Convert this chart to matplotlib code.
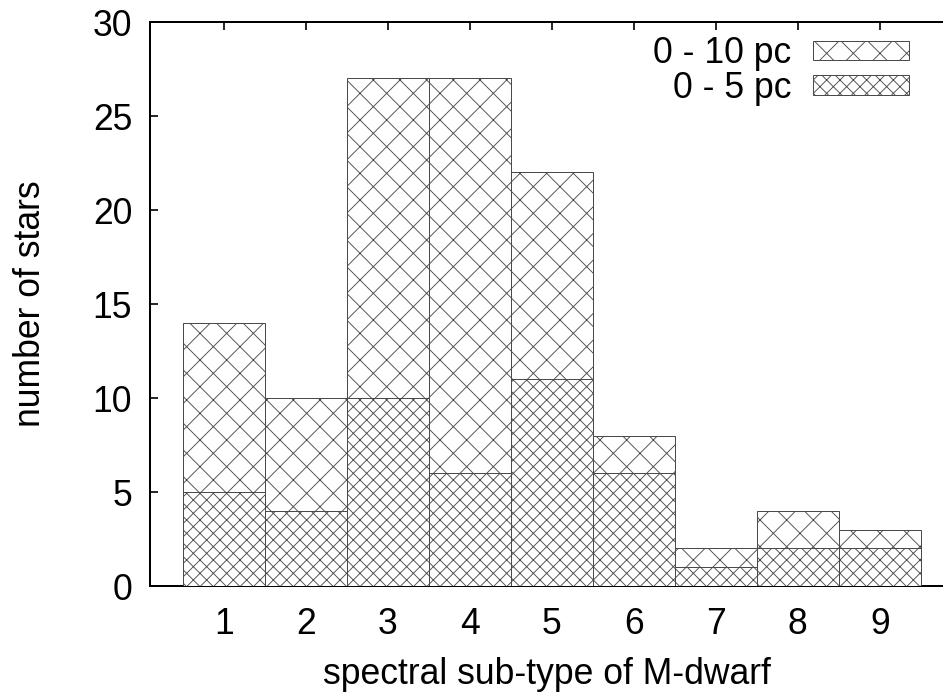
import matplotlib.pyplot as plt
from matplotlib.patches import Patch

# M-dwarf spectral sub-types and star counts
subtypes = [1, 2, 3, 4, 5, 6, 7, 8, 9]
counts_10pc = [14, 10, 27, 27, 22, 8, 2, 4, 3]
counts_5pc = [5, 4, 10, 6, 11, 6, 1, 2, 2]

plt.rcParams['font.family'] = ['Liberation Sans', 'DejaVu Sans']
plt.rcParams['hatch.linewidth'] = 0.8

dpi = 80
fs = 32
fig = plt.figure(figsize=(943 / dpi, 696 / dpi), dpi=dpi)
ax = fig.add_axes([150 / 943, 110 / 696, 793 / 943, 564 / 696])

edge = '#4a4a4a'
ax.bar(subtypes, counts_10pc, width=1, facecolor='white', edgecolor=edge,
       hatch='x', linewidth=0.9, zorder=2)
ax.bar(subtypes, counts_5pc, width=1, facecolor='white', edgecolor=edge,
       hatch='xx', linewidth=0.9, zorder=3)

ax.set_xlim(0.1, 9.77)
ax.set_ylim(0, 30)
ax.set_xticks(subtypes)
ax.set_yticks(range(0, 31, 5))

for side in ['left', 'bottom', 'top']:
    ax.spines[side].set_linewidth(1.8)
ax.spines['right'].set_visible(False)

ax.tick_params(axis='y', direction='in', length=7, width=1.5, labelsize=fs, pad=16)
ax.tick_params(axis='x', direction='in', length=0, labelsize=fs, pad=19)
ax.tick_params(axis='x', which='major', top=True, labeltop=False)
ax.xaxis.set_tick_params(which='major', length=7, width=1.5)
for t in ax.xaxis.get_major_ticks():
    t.tick1line.set_visible(False)

ax.set_xlabel('spectral sub-type of M-dwarf', fontsize=fs, labelpad=13)
ax.set_ylabel('number of stars', fontsize=fs, labelpad=40)

handles = [Patch(facecolor='white', edgecolor=edge, hatch='x', linewidth=0.9),
           Patch(facecolor='white', edgecolor=edge, hatch='xx', linewidth=0.9)]
ax.legend(handles, ['0 - 10 pc', '0 - 5 pc'], loc='upper right', frameon=False,
          markerfirst=False, fontsize=fs, handlelength=2.7, handleheight=0.47,
          handletextpad=0.6, labelspacing=-0.02, borderaxespad=0.0,
          bbox_to_anchor=(0.975, 1.0))

fig.savefig('out.png', dpi=dpi)
